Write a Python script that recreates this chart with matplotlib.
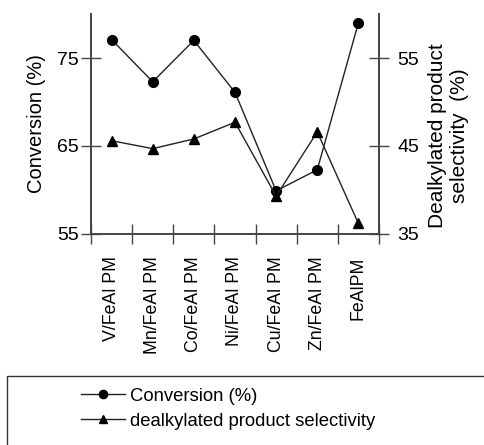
import matplotlib
matplotlib.use("Agg")
import matplotlib.pyplot as plt
from matplotlib.patches import Rectangle
import numpy as np

plt.rcParams['font.family'] = ['Liberation Sans', 'DejaVu Sans']
plt.rcParams['font.size'] = 12

catalysts = ['V/FeAl PM', 'Mn/FeAl PM', 'Co/FeAl PM', 'Ni/FeAl PM',
             'Cu/FeAl PM', 'Zn/FeAl PM', 'FeAlPM']
conversion = [77.1, 72.3, 77.0, 71.1, 59.9, 62.3, 79.0]
selectivity = [45.6, 44.7, 45.8, 47.7, 39.3, 46.6, 36.2]

x = np.arange(len(catalysts)) + 0.5

fig = plt.figure(figsize=(4.85, 4.45), dpi=100)
ax = fig.add_axes([0.1876, 0.4742, 0.5938, 0.4943])
ax2 = ax.twinx()

line_col = '#222222'
l1, = ax.plot(x, conversion, '-o', color=line_col, lw=1.0, ms=7,
              mfc='black', mec='black', label='Conversion (%)')
l2, = ax2.plot(x, selectivity, '-^', color=line_col, lw=1.0, ms=7.5,
               mfc='black', mec='black', label='dealkylated product selectivity')

ax.set_xlim(0, len(catalysts))
ax.set_ylim(55, 80)
ax2.set_ylim(35, 60)
ax.set_yticks([55, 65, 75])
ax2.set_yticks([35, 45, 55])

# boundaries get the ticks, names sit between them
ax.set_xticks(np.arange(len(catalysts) + 1))
ax.set_xticklabels([])
ax.set_xticks(x, minor=True)
ax.set_xticklabels(catalysts, minor=True, rotation=90)
ax.tick_params(axis='x', which='minor', length=0, pad=16, labelsize=12.8)
ax.tick_params(axis='x', which='major', direction='inout', length=15, width=1, color='#444444')
ax.tick_params(axis='y', direction='inout', length=14, width=1, color='#444444',
               pad=2, labelsize=14)
ax2.tick_params(axis='y', direction='inout', length=14, width=1, color='#444444',
                pad=6, labelsize=14)

for a in (ax, ax2):
    a.spines['top'].set_visible(False)
    for s in ('left', 'right', 'bottom'):
        a.spines[s].set_color('#444444')
        a.spines[s].set_linewidth(1.2)

ax.set_ylabel('Conversion (%)', fontsize=14.5, labelpad=8)
ax2.set_ylabel('Dealkylated product\nselectivity  (%)', fontsize=15, labelpad=8)
ax2.yaxis.set_label_coords(1.17, 0.445)

# legend box runs off the bottom/right edge
fig.patches.append(Rectangle((7 / 485, -0.1), 1.1, 1 - 376 / 445 + 0.1,
                             transform=fig.transFigure, fill=False,
                             edgecolor='#333333', lw=1.0, clip_on=False))
fig.legend(handles=[l1, l2], loc='upper left', frameon=False,
           bbox_to_anchor=(64 / 485, 1 - 371 / 445), handlelength=2.4,
           handletextpad=0.3, labelspacing=0.45, fontsize=13.3, markerscale=0.85)

fig.savefig('out.png', dpi=100)
